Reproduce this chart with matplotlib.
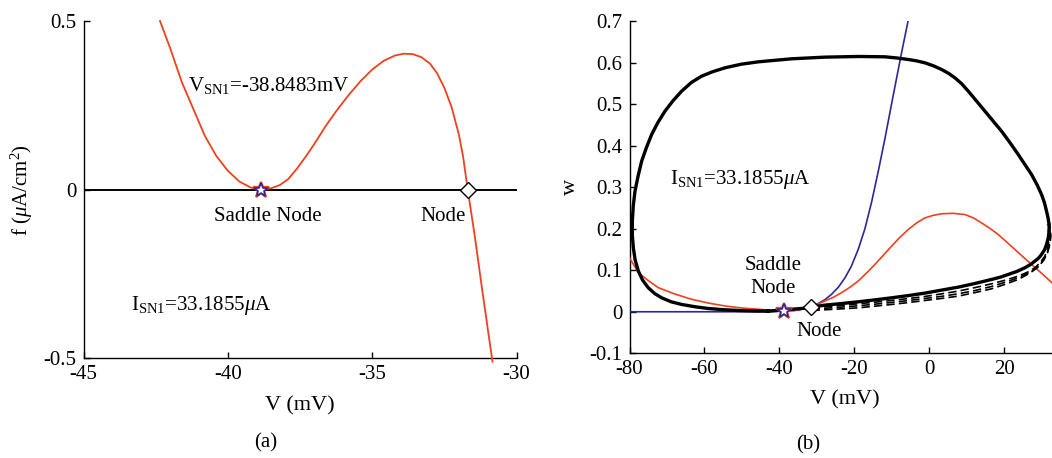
import matplotlib
matplotlib.use("Agg")
import matplotlib.pyplot as plt

plt.rcParams['font.family'] = 'serif'
plt.rcParams['font.serif'] = ['Liberation Serif', 'DejaVu Serif']
plt.rcParams['mathtext.fontset'] = 'custom'
plt.rcParams['mathtext.rm'] = 'Liberation Serif'
plt.rcParams['mathtext.it'] = 'Liberation Serif:italic'
plt.rcParams['axes.unicode_minus'] = False

# ---------------- panel (a): f(V) ----------------
f_V = [-42.35, -42.0, -41.6, -41.2, -40.8, -40.4, -40.0, -39.6, -39.2, -38.85,
       -38.5, -38.19, -37.9, -37.6, -37.3, -37.0, -36.6, -36.2, -35.8, -35.4,
       -35.0, -34.6, -34.2, -33.9, -33.6, -33.3, -33.0, -32.75, -32.5, -32.25,
       -32.0, -31.85, -31.69, -31.45, -31.2, -30.95, -30.83]
f_val = [0.500, 0.420, 0.320, 0.240, 0.160, 0.100, 0.056, 0.024, 0.006, 0.000,
         0.004, 0.014, 0.032, 0.063, 0.098, 0.136, 0.190, 0.238, 0.282, 0.322,
         0.356, 0.382, 0.398, 0.403, 0.402, 0.393, 0.374, 0.345, 0.302, 0.245,
         0.165, 0.098, 0.000, -0.135, -0.290, -0.440, -0.510]
V_sn = -38.8483
V_node = -31.69
a_xticks = [-45, -40, -35, -30]
a_yticks = [-0.5, 0, 0.5]
a_yticklabels = ['-0.5', '0', '0.5']

# ---------------- panel (b): phase plane ----------------
vnull_V = [-80.0, -78.8, -77.64, -75.0, -72.31, -68.0, -63.42, -59.0, -54.53,
           -50.0, -45.64, -42.0, -38.8, -34.98, -31.69, -29.8, -27.87, -25.6,
           -23.42, -21.2, -18.98, -16.8, -14.53, -12.3, -10.09, -7.9, -5.64,
           -3.4, -1.2, 1.0, 3.24, 6.36, 9.47, 11.7, 13.91, 16.1, 18.36, 20.6,
           22.8, 25.0, 27.24, 30.0, 32.67]
vnull_w = [0.130, 0.112, 0.094, 0.075, 0.058, 0.043, 0.030, 0.021, 0.014,
           0.009, 0.006, 0.0035, 0.002, 0.004, 0.012, 0.018, 0.026, 0.035,
           0.046, 0.059, 0.074, 0.093, 0.114, 0.136, 0.158, 0.179, 0.198,
           0.214, 0.226, 0.232, 0.236, 0.237, 0.234, 0.226, 0.214, 0.201,
           0.186, 0.168, 0.150, 0.132, 0.114, 0.092, 0.070]
wnull_V = [-80.0, -45.0, -40.0, -36.0, -33.5, -31.7, -29.8, -27.9, -26.1, -24.3,
           -22.5, -20.8, -19.0, -17.2, -15.4, -13.6, -11.8, -10.1, -8.7, -7.4,
           -5.6]
wnull_w = [0.0, 0.0, 0.001, 0.003, 0.007, 0.012, 0.019, 0.029, 0.042, 0.059,
           0.082, 0.110, 0.150, 0.200, 0.265, 0.340, 0.420, 0.500, 0.565, 0.625,
           0.704]
cycle_V = [-42.98, -38.53, -34.09, -31.42, -27.87, -23.4, -18.98, -14.5, -10.09,
           -5.6, -1.2, 3.2, 7.69, 12.1, 16.58, 19.0, 21.02, 23.3, 25.47, 27.0,
           28.13, 29.1, 29.91, 30.7, 31.24, 31.7, 31.95, 31.9, 31.6, 31.24,
           30.7, 29.91, 28.7, 27.24, 25.5, 23.69, 21.5, 19.24, 17.0, 14.8, 12.6,
           10.36, 8.6, 6.8, 5.1, 3.24, 1.1, -1.2, -3.4, -5.64, -8.7, -11.87,
           -18.98, -27.87, -36.76, -45.64, -50.2, -54.53, -57.8, -60.76, -63.5,
           -66.09, -68.4, -70.53, -72.4, -74.09, -75.5, -76.76, -77.7, -78.53,
           -79.0, -79.24, -79.25, -78.98, -78.5, -77.64, -76.5, -74.98, -73.3,
           -71.42, -68.9, -66.09, -62.5, -58.98, -55.0, -50.98, -47.0, -42.98]
cycle_w = [0.0015, 0.0047, 0.0079, 0.0112, 0.016, 0.0198, 0.024, 0.0287, 0.0336,
           0.039, 0.0449, 0.052, 0.0593, 0.068, 0.0778, 0.0835, 0.0898, 0.097,
           0.1059, 0.114, 0.1219, 0.129, 0.138, 0.149, 0.162, 0.178, 0.195,
           0.212, 0.228, 0.2423, 0.262, 0.2824, 0.306, 0.3305, 0.354, 0.3787,
           0.407, 0.4348, 0.459, 0.483, 0.507, 0.5311, 0.549, 0.5632, 0.574,
           0.5833, 0.592, 0.5993, 0.604, 0.6073, 0.611, 0.6138, 0.6146, 0.613,
           0.609, 0.6017, 0.596, 0.5873, 0.578, 0.5672, 0.552, 0.5311, 0.508,
           0.483, 0.456, 0.4268, 0.395, 0.3626, 0.327, 0.2904, 0.255, 0.2182,
           0.185, 0.154, 0.125, 0.0979, 0.076, 0.0577, 0.044, 0.0336, 0.024,
           0.0176, 0.012, 0.0079, 0.005, 0.0031, 0.002, 0.0015]
trans1_V = [-31.42, -25.0, -18.98, -14.5, -10.09, -5.6, -1.2, 3.2, 7.69, 12.1,
            16.58, 20.2, 23.69, 26.1, 28.13, 29.6, 30.8, 31.5, 31.87, 31.8, 31.51]
trans1_w = [0.0095, 0.0142, 0.0192, 0.023, 0.0272, 0.0318, 0.0368, 0.043, 0.0497,
            0.058, 0.0673, 0.076, 0.0858, 0.095, 0.1059, 0.119, 0.134, 0.151,
            0.1701, 0.19, 0.2102]
trans2_V = [-31.42, -25.0, -18.98, -14.5, -10.09, -5.6, -1.2, 3.2, 7.69, 12.1,
            16.58, 20.2, 23.69, 26.4, 28.58, 30.1, 31.24, 31.9, 32.22, 32.1, 31.69]
trans2_w = [0.0063, 0.0102, 0.0144, 0.0183, 0.0224, 0.027, 0.032, 0.037, 0.0433,
            0.051, 0.0609, 0.071, 0.0818, 0.093, 0.1059, 0.121, 0.138, 0.157,
            0.1781, 0.198, 0.2182]
trans3_V = [-31.42, -25.0, -18.98, -14.5, -10.09, -5.6, -1.2, 3.2, 7.69, 12.1,
            16.58, 20.2, 23.69, 26.6, 29.02, 30.5, 31.51, 32.1, 32.4, 32.2, 31.69]
trans3_w = [0.0031, 0.0062, 0.0095, 0.0135, 0.0176, 0.0222, 0.0272, 0.032, 0.0376,
            0.046, 0.0553, 0.066, 0.0778, 0.092, 0.1075, 0.124, 0.142, 0.161,
            0.1821, 0.204, 0.2262]
sn_w = 0.003
node_w = 0.012
b_xticks = [-80, -60, -40, -20, 0, 20]
b_yticks = [-0.1, 0, 0.1, 0.2, 0.3, 0.4, 0.5, 0.6, 0.7]
b_yticklabels = ['-0.1', '0', '0.1', '0.2', '0.3', '0.4', '0.5', '0.6', '0.7']

RED = '#f0401e'
BLUE = '#2c2896'
W, H = 1052, 458
fig = plt.figure(figsize=(W / 100, H / 100), dpi=100)


def px_axes(x0, y0, x1, y1):
    return fig.add_axes([x0 / W, 1 - y1 / H, (x1 - x0) / W, (y1 - y0) / H])


def style(ax):
    for s in ('top', 'right'):
        ax.spines[s].set_visible(False)
    for s in ('left', 'bottom'):
        ax.spines[s].set_linewidth(1.0)
    ax.tick_params(direction='in', length=4, width=1, labelsize=15, pad=5)


# panel (a)
ax1 = px_axes(83.5, 21, 516.5, 358.3)
style(ax1)
ax1.axhline(0, color='black', lw=1.4, zorder=2)
ax1.plot(f_V, f_val, color=RED, lw=1.3, clip_on=False, zorder=3)
ax1.plot([V_sn], [0], marker='*', ms=12, mfc='none', mec=RED, mew=1.6, zorder=4)
ax1.plot([V_sn], [0], marker='*', ms=10, mfc='white', mec=BLUE, mew=1.2, zorder=5)
ax1.plot([V_node], [0], marker='D', ms=8, mfc='white', mec='black', mew=1.0, zorder=5)
ax1.set_xlim(-45, -30)
ax1.set_ylim(-0.5, 0.5)
ax1.set_xticks(a_xticks)
ax1.set_xticklabels([str(t) for t in a_xticks])
ax1.set_yticks(a_yticks)
ax1.set_yticklabels(a_yticklabels)
ax1.text(-41.39, 0.31, r'V$_{\mathrm{SN1}}$=-38.8483mV', fontsize=15, va='center', ha='left')
ax1.text(-38.63, -0.081, 'Saddle Node', fontsize=15, va='center', ha='center')
ax1.text(-32.56, -0.081, 'Node', fontsize=15, va='center', ha='center')
ax1.text(-43.35, -0.342, r'I$_{\mathrm{SN1}}$=33.1855$\mu$A', fontsize=15, va='center', ha='left')

# panel (b)
ax2 = px_axes(629.5, 21, 1052, 353.3)
style(ax2)
ax2.plot(wnull_V, wnull_w, color=BLUE, lw=1.2, zorder=3)
ax2.plot(vnull_V, vnull_w, color=RED, lw=1.2, zorder=3)
for tv, tw in ((trans1_V, trans1_w), (trans2_V, trans2_w), (trans3_V, trans3_w)):
    ax2.plot(tv, tw, color='black', lw=1.2, ls=(0, (5, 2.5)), zorder=4)
ax2.plot(cycle_V, cycle_w, color='black', lw=2.4, zorder=5, solid_joinstyle='round')
ax2.plot([V_sn], [sn_w], marker='*', ms=12, mfc='none', mec=RED, mew=1.6, zorder=6)
ax2.plot([V_sn], [sn_w], marker='*', ms=10, mfc='white', mec=BLUE, mew=1.2, zorder=7)
ax2.plot([V_node], [node_w], marker='D', ms=8, mfc='white', mec='black', mew=1.0, zorder=7)
ax2.set_xlim(-80, 32.7)
ax2.set_ylim(-0.1, 0.7)
ax2.set_xticks(b_xticks)
ax2.set_xticklabels([str(t) for t in b_xticks])
ax2.set_yticks(b_yticks)
ax2.set_yticklabels(b_yticklabels)
ax2.text(-69.2, 0.318, r'I$_{\mathrm{SN1}}$=33.1855$\mu$A', fontsize=15, va='center', ha='left')
ax2.text(-41.6, 0.084, 'Saddle\nNode', fontsize=15, va='center', ha='center', linespacing=1.25)
ax2.text(-29.5, -0.047, 'Node', fontsize=15, va='center', ha='center')


def ftext(x, y, s, **kw):
    fig.text(x / W, 1 - y / H, s, ha='center', va='center', **kw)


ftext(22, 190, r'f ($\mu$A/cm$^2$)', fontsize=15, rotation=90)
ftext(299.5, 406, 'V (mV)', fontsize=16)
ftext(570, 187, 'w', fontsize=16, rotation=90)
ftext(845, 400, 'V (mV)', fontsize=16)
ftext(266, 443, '(a)', fontsize=15)
ftext(808, 445, '(b)', fontsize=15)

fig.savefig('out.png', dpi=100)
